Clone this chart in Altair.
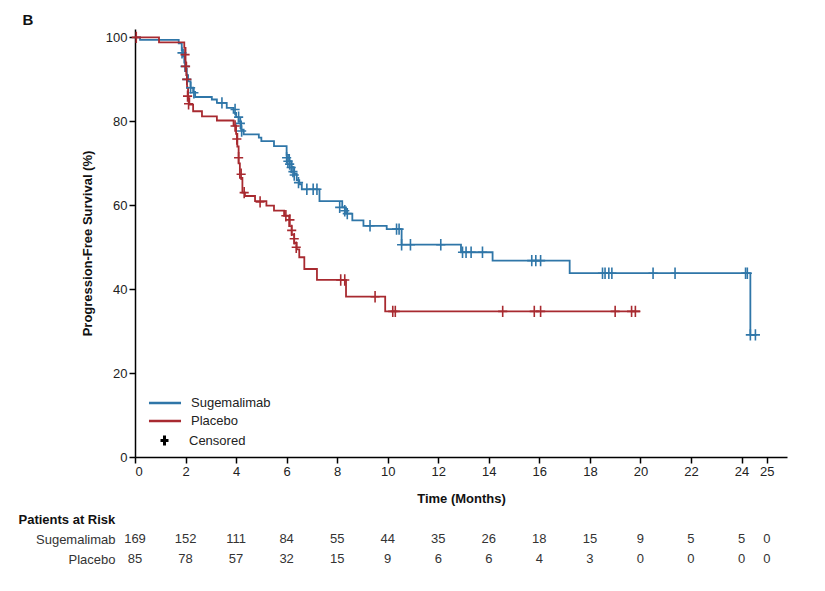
import altair as alt
import pandas as pd

# ---- Kaplan-Meier step points (time in months, survival %) ----
sug_t = [0, 0.2, 1.73, 1.85, 1.9, 1.95, 2.0, 2.05, 2.1, 2.2, 2.3, 2.38, 3.04, 3.24, 3.63, 3.9, 4.0, 4.1, 4.2, 4.3,
         4.9, 5.0, 5.5, 6.0, 6.1, 6.2, 6.3, 6.4, 6.5, 6.6, 7.3, 8.2, 8.35, 8.6, 9.04, 9.96, 10.55, 12.9, 14.15,
         17.2, 24.35, 24.6]
sug_s = [100, 99.4, 98.6, 97, 95.5, 94, 92.5, 91, 89.5, 88, 87, 85.8, 85.2, 84.4, 83.2, 82, 81, 80, 78, 76.9,
         76.1, 75.3, 74.1, 72, 70.5, 69, 67.5, 66, 65, 63.8, 61, 59.5, 58, 56.4, 55.1, 54.3, 50.6, 48.8, 46.8,
         43.8, 29.1, 29.1]

pla_t = [0, 0.95, 1.95, 2.0, 2.03, 2.06, 2.1, 2.15, 2.3, 2.65, 3.24, 3.9, 4.0, 4.05, 4.1, 4.15, 4.25, 4.35,
         4.75, 5.2, 5.5, 5.9, 6.1, 6.2, 6.3, 6.4, 6.5, 6.7, 7.2, 8.35, 9.9, 20.0]
pla_s = [100, 98.8, 97.5, 94, 91, 88, 85.5, 84, 82.4, 81.2, 80.2, 79, 77, 74, 70, 66.5, 63, 62.2,
         61, 59.9, 58.7, 57.5, 55, 53, 51, 49.5, 47.6, 44.8, 42.2, 38.2, 34.7, 34.7]

# ---- censored observations ----
sug_cens_t = [1.86, 1.98, 2.05, 2.2, 2.33, 3.44, 3.96, 4.1, 4.17, 4.22, 6.0, 6.05, 6.12, 6.18, 6.25, 6.3, 6.47,
              6.8, 7.05, 7.2, 8.1, 8.3, 8.4, 9.3, 10.35, 10.45, 10.55, 10.9, 12.1, 12.96, 13.1, 13.3, 13.75,
              15.7, 15.86, 16.05, 18.5, 18.6, 18.75, 18.87, 20.5, 21.37, 24.16, 24.23, 24.35, 24.55]
sug_cens_s = [96.3, 93.1, 90, 88, 86.8, 84.4, 82.8, 81, 79.5, 77.7, 71.3, 70.5, 69.8, 69, 68, 67.2, 65.4,
              63.8, 63.8, 63.8, 59.5, 58.7, 58, 55.1, 54.3, 54.3, 50.6, 50.6, 50.6, 48.8, 48.8, 48.8, 48.8,
              46.8, 46.8, 46.8, 43.8, 43.8, 43.8, 43.8, 43.8, 43.8, 43.8, 43.8, 29.1, 29.1]

pla_cens_t = [0.05, 1.98, 2.0, 2.05, 2.08, 2.12, 3.96, 4.03, 4.1, 4.2, 4.32, 4.95, 5.97, 6.13, 6.2, 6.3, 6.38,
              8.14, 8.3, 9.5, 10.2, 10.3, 14.55, 15.8, 16.05, 19.0, 19.65, 19.8]
pla_cens_s = [100, 95.9, 93.1, 90, 86, 84.2, 78.9, 75.8, 71.3, 67.4, 63, 60.8, 57.5, 56.5, 54, 52, 50,
              42.2, 42.2, 38.2, 34.7, 34.7, 34.7, 34.7, 34.7, 34.7, 34.7, 34.7]

# ---- patients at risk ----
risk_times = [0, 2, 4, 6, 8, 10, 12, 14, 16, 18, 20, 22, 24, 25]
sug_risk = [169, 152, 111, 84, 55, 44, 35, 26, 18, 15, 9, 5, 5, 0]
pla_risk = [85, 78, 57, 32, 15, 9, 6, 6, 4, 3, 0, 0, 0, 0]

groups = ["Sugemalimab", "Placebo"]
colors = ["#2f76a8", "#a82a30"]
x_ticks = [0, 2, 4, 6, 8, 10, 12, 14, 16, 18, 20, 22, 24, 25]
y_ticks = [0, 20, 40, 60, 80, 100]

steps = pd.concat([
    pd.DataFrame({"t": sug_t, "s": sug_s, "group": "Sugemalimab"}),
    pd.DataFrame({"t": pla_t, "s": pla_s, "group": "Placebo"}),
])
cens = pd.concat([
    pd.DataFrame({"t": sug_cens_t, "s": sug_cens_s, "group": "Sugemalimab"}),
    pd.DataFrame({"t": pla_cens_t, "s": pla_cens_s, "group": "Placebo"}),
])
cens["kind"] = "Censored"
risk = pd.concat([
    pd.DataFrame({"t": risk_times, "n": sug_risk, "group": "Sugemalimab"}),
    pd.DataFrame({"t": risk_times, "n": pla_risk, "group": "Placebo"}),
])

FONT = "Liberation Sans"
W = 652
xscale = alt.Scale(domain=[0, 25.8], nice=False, zero=False)
color_scale = alt.Scale(domain=groups, range=colors)
plus = "M-0.8,0H0.8M0,-1V1"
long_line = "M-3,0H3"

x_enc = alt.X("t:Q", scale=xscale,
              axis=alt.Axis(values=x_ticks, title="Time (Months)", format="d",
                            labelFontSize=13, titleFontSize=13, titleFontWeight="bold",
                            titlePadding=14, tickSize=6, domainColor="black", tickColor="black",
                            domainWidth=1.5, tickWidth=1.5, labelColor="#222", titleColor="#111",
                            grid=False))
y_enc = alt.Y("s:Q", scale=alt.Scale(domain=[0, 102], nice=False),
              axis=alt.Axis(values=y_ticks, title="Progression-Free Survival (%)",
                            labelFontSize=13, titleFontSize=13, titleFontWeight="bold",
                            titlePadding=11, tickSize=6, domainColor="black", tickColor="black",
                            domainWidth=1.5, tickWidth=1.5, labelColor="#222", titleColor="#111",
                            grid=False))

lines = alt.Chart(steps).mark_line(interpolate="step-after", strokeWidth=1.8).encode(
    x=x_enc, y=y_enc,
    color=alt.Color("group:N", scale=color_scale,
                    legend=alt.Legend(title=None, orient="none", legendX=23, legendY=367, padding=0,
                                      symbolType=long_line, symbolSize=114, symbolStrokeWidth=2.5,
                                      labelFontSize=13, labelColor="#222", labelOffset=19,
                                      rowPadding=4)),
    detail="group:N",
)

points = alt.Chart(cens).mark_point(shape=plus, filled=False, size=130, strokeWidth=1.6, opacity=1).encode(
    x=alt.X("t:Q", scale=xscale),
    y=alt.Y("s:Q"),
    color=alt.Color("group:N", scale=color_scale),
    shape=alt.Shape("kind:N", scale=alt.Scale(domain=["Censored"], range=[plus]),
                    legend=alt.Legend(title=None, orient="none", legendX=23, legendY=405,
                                      symbolStrokeColor="black", symbolFillColor="black",
                                      symbolStrokeWidth=3, symbolSize=100,
                                      labelFontSize=13, labelColor="#222", labelOffset=18)),
)

main = alt.layer(lines, points).properties(width=W, height=428)

risk_chart = alt.Chart(risk).mark_text(fontSize=13, color="#333", font=FONT).encode(
    x=alt.X("t:Q", scale=xscale, axis=None),
    y=alt.Y("group:N", sort=groups,
            axis=alt.Axis(title=None, domain=False, ticks=False, labelPadding=20,
                          labelFontSize=13, labelColor="#333", grid=False)),
    text="n:Q",
).properties(
    width=W, height=40,
    title=alt.TitleParams("Patients at Risk", anchor="start", frame="bounds", dx=-17,
                          fontSize=13, fontWeight="bold", color="#111", offset=2),
)

chart = alt.vconcat(main, risk_chart, spacing=9).properties(
    title=alt.TitleParams("B", anchor="start", frame="bounds", fontSize=15, fontWeight="bold",
                          color="#111", offset=0, dx=4),
    padding={"left": 10, "top": 5, "right": 5, "bottom": 5},
).configure(font=FONT).configure_view(strokeWidth=0, stroke=None).configure_axis(
    labelFont=FONT, titleFont=FONT)

chart.save("out.html", embed_options={"renderer": "svg", "actions": False})
